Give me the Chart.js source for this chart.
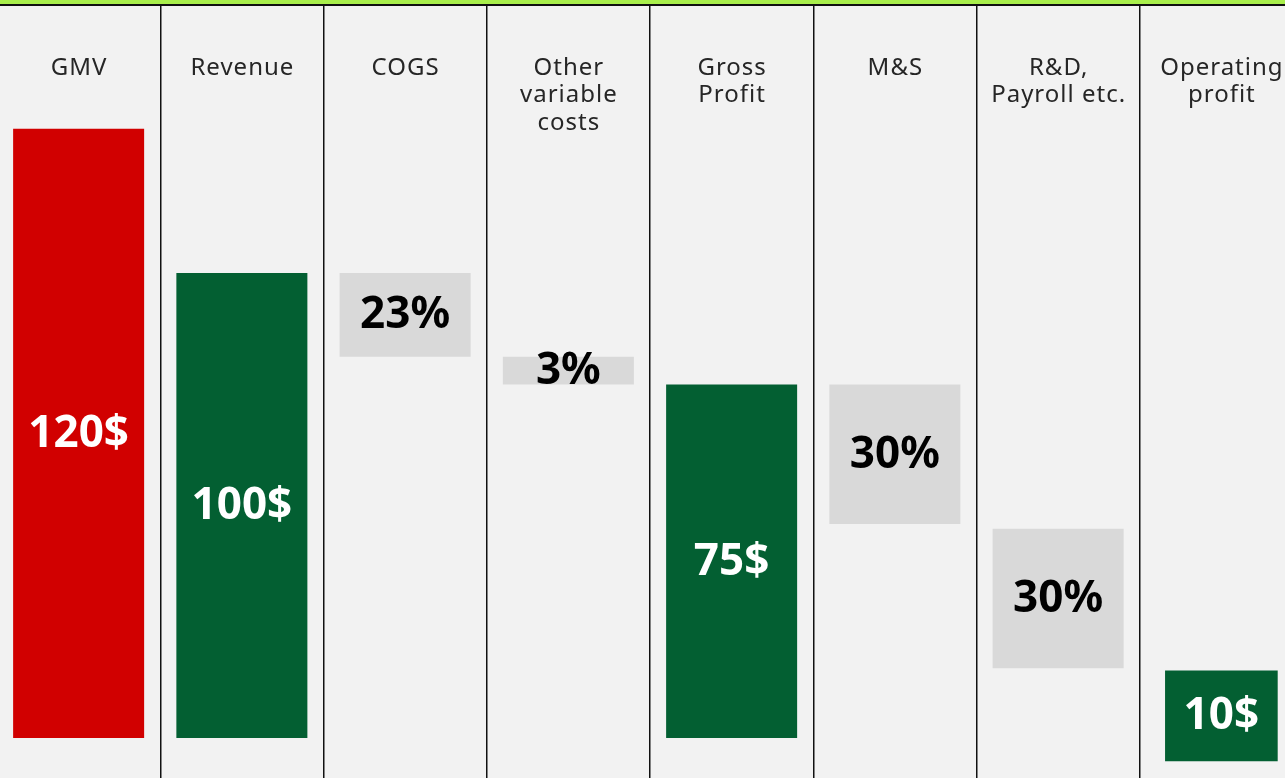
<!DOCTYPE html>
<html>
<head>
<meta charset="utf-8">
<script src="https://cdn.jsdelivr.net/npm/chart.js@4.4.1/dist/chart.umd.min.js"></script>
<style>
  html, body { margin: 0; padding: 0; background: #f2f2f2; overflow: hidden; }
  #top { position: absolute; left: 0; top: 0; width: 1285px; height: 4px; background: #a9ef4c; border-bottom: 2px solid #111; }
  #wrap { position: absolute; left: -3px; top: 6px; width: 1306px; height: 772px; }
</style>
</head>
<body>
<div id="top"></div>
<div id="wrap"><canvas id="grafico" width="1306" height="772"></canvas></div>
<script>
// Dados (unidades: Revenue = 100)
const categorias = [['GMV'], ['Revenue'], ['COGS'], ['Other', 'variable', 'costs'], ['Gross', 'Profit'], ['M&S'], ['R&D,', 'Payroll etc.'], ['Operating', 'profit']];
const inicio = [0, 0, 82, 76, 0, 46, 15, -5];
const fim = [131, 100, 100, 82, 76, 76, 45, 14.5];
const rotulos = ['120$', '100$', '23%', '3%', '75$', '30%', '30%', '10$'];
const cores = ['#d10000', '#035f32', '#d9d9d9', '#d9d9d9', '#035f32', '#d9d9d9', '#d9d9d9', '#035f32'];
const coresTexto = ['#fff', '#fff', '#000', '#000', '#fff', '#000', '#000', '#fff'];

const ultimo = categorias.length - 1;
const barras = inicio.map((v, i) => i < ultimo ? [v, fim[i]] : null);
const barraFinal = inicio.map((v, i) => i === ultimo ? [v, fim[i]] : null);

// Rótulos das categorias e valores
const textos = {
  id: 'textos',
  afterDatasetsDraw(chart) {
    const ctx = chart.ctx;
    const x = chart.scales.x;
    ctx.save();
    ctx.textAlign = 'center';
    ctx.textBaseline = 'middle';
    ctx.fillStyle = '#262626';
    ctx.font = '24px "Noto Sans"';
    ctx.letterSpacing = '1px';
    categorias.forEach((linhas, i) => {
      linhas.forEach((l, j) => ctx.fillText(l, x.getPixelForValue(i) + 0.5, 62 + j * 27.5));
    });
    ctx.letterSpacing = '0px';
    ctx.font = 'bold 44px "Noto Sans"';
    chart.data.datasets.forEach((ds, d) => {
      chart.getDatasetMeta(d).data.forEach((bar, i) => {
        if (!ds.data[i]) return;
        ctx.fillStyle = coresTexto[i];
        ctx.fillText(rotulos[i], bar.x, (bar.y + bar.base) / 2 + 1);
      });
    });
    ctx.restore();
  }
};

new Chart(document.getElementById('grafico'), {
  type: 'bar',
  data: {
    labels: categorias,
    datasets: [{
      data: barras,
      backgroundColor: cores,
      categoryPercentage: 1,
      barPercentage: 0.8025
    }, {
      data: barraFinal,
      backgroundColor: cores,
      categoryPercentage: 1,
      barPercentage: 0.69
    }]
  },
  options: {
    responsive: false,
    animation: false,
    devicePixelRatio: 1,
    layout: { padding: 0 },
    datasets: { bar: { grouped: false, borderSkipped: false } },
    plugins: { legend: { display: false }, tooltip: { enabled: false } },
    scales: {
      x: {
        display: true,
        offset: true,
        ticks: { display: false },
        border: { display: false },
        grid: { offset: true, color: '#111', lineWidth: 1.5, drawTicks: false }
      },
      y: { display: false, min: -8.6, max: 157.42 }
    }
  },
  plugins: [textos]
});
</script>
</body>
</html>
